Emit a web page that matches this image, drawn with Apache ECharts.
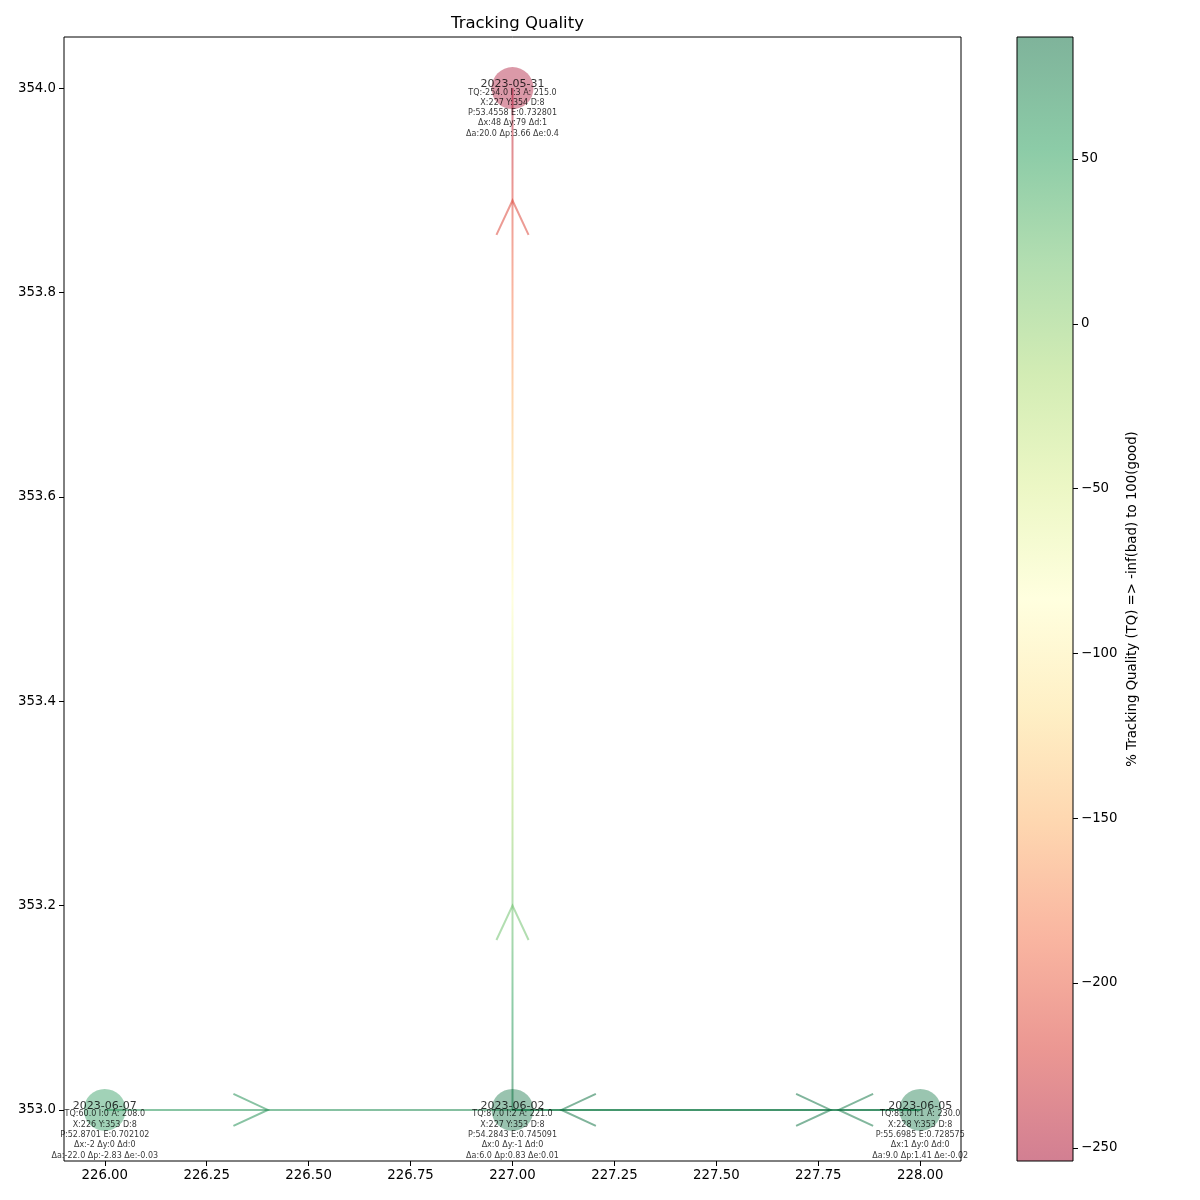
<!DOCTYPE html>
<html>
<head>
<meta charset="utf-8">
<script src="https://cdn.jsdelivr.net/npm/echarts@6/dist/echarts.min.js"></script>
<style>html,body{margin:0;background:#fff}#chart{width:1200px;height:1200px}</style>
</head>
<body>
<div id="chart"></div>
<script>
// tracked points, in time order
var dates = ['2023-05-31', '2023-06-02', '2023-06-05', '2023-06-07'];
var posX = [227, 227, 228, 226];
var posY = [354, 353, 353, 353];
var tq = [-254.0, 87.0, 83.0, 60.0];
var idxI = [3, 2, 1, 0];
var area = ['215.0', '221.0', '230.0', '208.0'];
var dist = [8, 8, 8, 8];
var perim = ['53.4558', '54.2843', '55.6985', '52.8701'];
var ecc = ['0.732801', '0.745091', '0.728575', '0.702102'];
var dX = [48, 0, 1, -2];
var dY = [79, -1, 0, 0];
var dD = [1, 0, 0, 0];
var dA = ['20.0', '6.0', '9.0', '-22.0'];
var dP = ['3.66', '0.83', '1.41', '-2.83'];
var dE = ['0.4', '0.01', '-0.02', '-0.03'];

// arrow heads: tip position, direction (deg, 90 = up) and TQ colour value
var arrowX = [227, 227, 227.12, 227.78, 227.80, 226.40];
var arrowY = [353.89, 353.20, 353, 353, 353, 353];
var arrowDir = [90, 90, 180, 0, 180, 0];
var arrowTQ = [-216, 19, 86, 84, 81, 65];

// axis ticks
var xTicks = [226.00, 226.25, 226.50, 226.75, 227.00, 227.25, 227.50, 227.75, 228.00];
var yTicks = [353.0, 353.2, 353.4, 353.6, 353.8, 354.0];
var cbTicks = [-250, -200, -150, -100, -50, 0, 50];
var tqMin = -254, tqMax = 87;

var rdYlGn = ['#a50026', '#d73027', '#f46d43', '#fdae61', '#fee08b', '#ffffbf',
              '#d9ef8b', '#a6d96a', '#66bd63', '#1a9850', '#006837'];

function hexRgb(h) {
    return [parseInt(h.substr(1, 2), 16), parseInt(h.substr(3, 2), 16), parseInt(h.substr(5, 2), 16)];
}
function cmap(v, a) {
    var t = Math.max(0, Math.min(1, (v - tqMin) / (tqMax - tqMin))) * (rdYlGn.length - 1);
    var i = Math.min(Math.floor(t), rdYlGn.length - 2), f = t - i;
    var c0 = hexRgb(rdYlGn[i]), c1 = hexRgb(rdYlGn[i + 1]);
    var c = c0.map(function (x, k) { return Math.round(x + (c1[k] - x) * f); });
    return 'rgba(' + c.join(',') + ',' + (a == null ? 1 : a) + ')';
}
function minus(v) { return String(v).replace('-', '\u2212'); }

function detailText(i) {
    return [
        'TQ:' + tq[i].toFixed(1) + ' I:' + idxI[i] + ' A: ' + area[i],
        'X:' + posX[i] + ' Y:' + posY[i] + ' D:' + dist[i],
        'P:' + perim[i] + ' E:' + ecc[i],
        'Δx:' + dX[i] + ' Δy:' + dY[i] + ' Δd:' + dD[i],
        'Δa:' + dA[i] + ' Δp:' + dP[i] + ' Δe:' + dE[i]
    ].join('\n');
}

var pts = posX.map(function (x, i) { return [x, posY[i]]; });

// one line per step, coloured from the TQ of its start to the TQ of its end
var segSeries = [];
for (var s = 0; s < pts.length - 1; s++) {
    var a = pts[s], b = pts[s + 1];
    var stops = [];
    for (var k = 0; k <= 10; k++) {
        stops.push({ offset: k / 10, color: cmap(tq[s] + (tq[s + 1] - tq[s]) * k / 10, 0.5) });
    }
    var gx0 = b[0] < a[0] ? 1 : 0, gx1 = b[0] > a[0] ? 1 : 0;
    var gy0 = b[1] > a[1] ? 1 : 0, gy1 = b[1] < a[1] ? 1 : 0;
    segSeries.push({
        type: 'line',
        xAxisIndex: 0, yAxisIndex: 0,
        data: [a, b],
        showSymbol: false,
        silent: true,
        z: 2,
        lineStyle: { width: 2, color: new echarts.graphic.LinearGradient(gx0, gy0, gx1, gy1, stops) }
    });
}

var arrowData = arrowX.map(function (x, i) { return [x, arrowY[i], arrowDir[i], arrowTQ[i]]; });

var cbStops = rdYlGn.map(function (c, i) {
    var rgb = hexRgb(c);
    return { offset: i / (rdYlGn.length - 1), color: 'rgba(' + rgb.join(',') + ',0.5)' };
});

var chart = echarts.init(document.getElementById('chart'));
var font = 'DejaVu Sans';

var option = {
    backgroundColor: '#fff',
    animation: false,
    textStyle: { fontFamily: font, color: '#000' },
    title: {
        text: 'Tracking Quality',
        left: 446, top: 10,
        textStyle: { fontFamily: font, fontSize: 16.5, fontWeight: 'normal', color: '#000' }
    },
    grid: [
        { left: 64, top: 37, width: 897, height: 1124, show: true, borderColor: '#000', borderWidth: 1, backgroundColor: 'transparent' },
        { left: 1017, top: 37, width: 56, height: 1124 }
    ],
    xAxis: [
        {
            type: 'value', gridIndex: 0, min: 225.9, max: 228.1,
            splitLine: { show: false },
            axisLine: { show: false, onZero: false },
            axisTick: { show: true, inside: false, length: 5, lineStyle: { color: '#000' }, customValues: xTicks },
            axisLabel: { fontSize: 13.3, color: '#000', margin: 8, customValues: xTicks,
                formatter: function (v) { return v.toFixed(2); } }
        },
        { type: 'value', gridIndex: 1, min: 0, max: 1, show: false }
    ],
    yAxis: [
        {
            type: 'value', gridIndex: 0, min: 352.95, max: 354.05,
            splitLine: { show: false },
            axisLine: { show: false, onZero: false },
            axisTick: { show: true, inside: false, length: 5, lineStyle: { color: '#000' }, customValues: yTicks },
            axisLabel: { fontSize: 13.3, color: '#000', margin: 8, customValues: yTicks,
                formatter: function (v) { return v.toFixed(1); } }
        },
        {
            type: 'value', gridIndex: 1, min: tqMin, max: tqMax, position: 'right',
            splitLine: { show: false },
            axisLine: { show: false, onZero: false },
            axisTick: { show: true, inside: false, length: 5, lineStyle: { color: '#000' }, customValues: cbTicks },
            axisLabel: { fontSize: 13.3, color: '#000', margin: 8, customValues: cbTicks,
                formatter: function (v) { return minus(v); } },
            name: '% Tracking Quality (TQ) => -inf(bad) to 100(good)',
            nameLocation: 'middle',
            nameRotate: 90,
            nameGap: 53,
            nameTextStyle: { fontFamily: font, fontSize: 13.3, color: '#000' }
        }
    ],
    series: segSeries.concat([
        {
            type: 'custom',
            name: 'arrows',
            xAxisIndex: 0, yAxisIndex: 0,
            silent: true,
            z: 3,
            data: arrowData,
            renderItem: function (params, api) {
                var tip = api.coord([api.value(0), api.value(1)]);
                var ang = api.value(2) * Math.PI / 180;
                var bx = -Math.cos(ang), by = Math.sin(ang);
                var L = 38, h = 25 * Math.PI / 180;
                function arm(sg) {
                    var c = Math.cos(sg * h), sn = Math.sin(sg * h);
                    return [tip[0] + L * (bx * c - by * sn), tip[1] + L * (bx * sn + by * c)];
                }
                return {
                    type: 'polyline',
                    shape: { points: [arm(1), tip, arm(-1)] },
                    style: { fill: null, stroke: cmap(api.value(3), 0.5), lineWidth: 2 }
                };
            }
        },
        {
            type: 'scatter',
            name: 'points',
            xAxisIndex: 0, yAxisIndex: 0,
            data: pts,
            symbolSize: 42,
            z: 4,
            itemStyle: { color: function (p) { return cmap(tq[p.dataIndex], 0.5); } },
            label: {
                show: true, position: 'inside', offset: [0, -4],
                fontSize: 11, color: '#000', fontFamily: font,
                formatter: function (p) { return dates[p.dataIndex]; }
            }
        },
        {
            type: 'scatter',
            name: 'details',
            xAxisIndex: 0, yAxisIndex: 0,
            data: pts,
            symbolSize: 1,
            itemStyle: { color: 'transparent' },
            z: 5,
            label: {
                show: true, position: 'inside', offset: [0, 25],
                fontSize: 8, lineHeight: 10.3, color: '#000', fontFamily: font, align: 'center',
                formatter: function (p) { return detailText(p.dataIndex); }
            }
        },
        {
            type: 'custom',
            name: 'colorbar',
            xAxisIndex: 1, yAxisIndex: 1,
            silent: true,
            data: [[tqMin, tqMax]],
            renderItem: function (params, api) {
                var p0 = api.coord([0, api.value(1)]);
                var p1 = api.coord([1, api.value(0)]);
                return {
                    type: 'rect',
                    shape: { x: p0[0], y: p0[1], width: p1[0] - p0[0], height: p1[1] - p0[1] },
                    style: {
                        fill: new echarts.graphic.LinearGradient(0, 1, 0, 0, cbStops),
                        stroke: '#000', lineWidth: 1
                    }
                };
            }
        }
    ])
};

chart.setOption(option);
</script>
</body>
</html>
